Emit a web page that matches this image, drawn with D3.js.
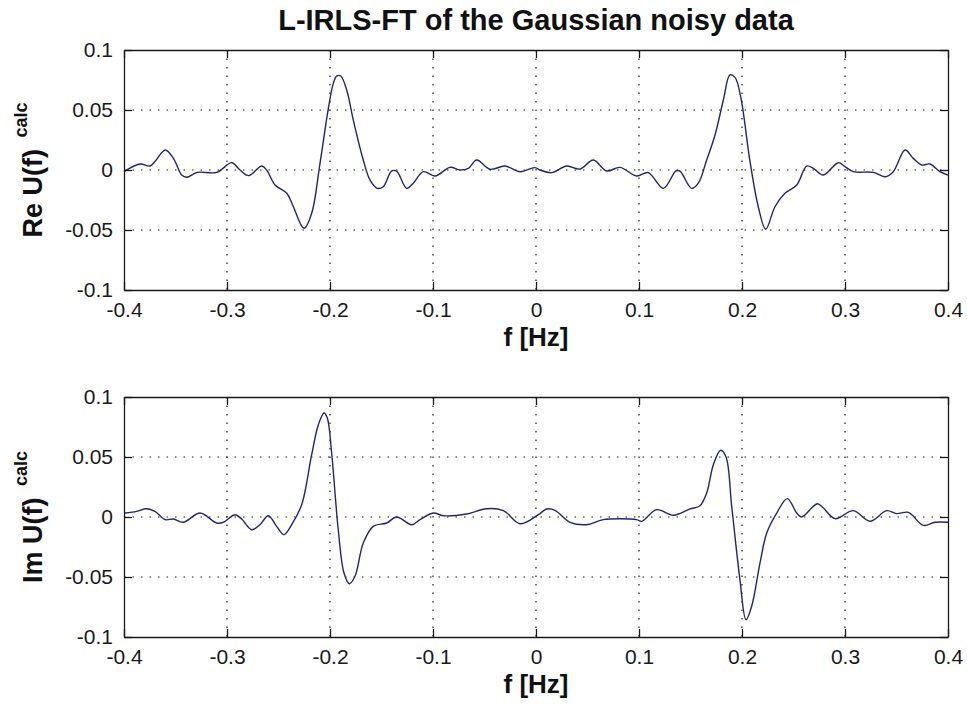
<!DOCTYPE html>
<html>
<head>
  <meta charset="utf-8">
  <script src="https://cdn.jsdelivr.net/npm/d3@7"></script>
  <style>
    body { margin: 0; background: #fff; }
    svg { display: block; font-family: Arial, "Liberation Sans", sans-serif; }
  </style>
</head>
<body>
<div id="chart"></div>
<script>
  var w = 967, h = 707;

  // tick values / labels
  var xTicks = [-0.4, -0.3, -0.2, -0.1, 0, 0.1, 0.2, 0.3, 0.4];
  var xTickLabels = ["-0.4", "-0.3", "-0.2", "-0.1", "0", "0.1", "0.2", "0.3", "0.4"];
  var yTicks = [-0.1, -0.05, 0, 0.05, 0.1];
  var yTickLabels = ["-0.1", "-0.05", "0", "0.05", "0.1"];

  // Re U(f) calc
  var freqRe = [-0.4, -0.3845, -0.3748, -0.370, -0.360, -0.352, -0.344, -0.339, -0.329, -0.310,
    -0.2954, -0.2874, -0.279, -0.2663, -0.2615, -0.2534, -0.242, -0.2356, -0.2252, -0.2178,
    -0.2097, -0.2016, -0.1968, -0.1935, -0.1896, -0.1838, -0.1774, -0.1677, -0.1612, -0.1541,
    -0.1483, -0.1401, -0.1353, -0.1256, -0.1191, -0.1094, -0.098, -0.0835, -0.0738, -0.0657,
    -0.0576, -0.0447, -0.0301, -0.0155, -0.001, 0.0039, 0.0152, 0.0298, 0.0427, 0.0557,
    0.0686, 0.0816, 0.0977, 0.109, 0.1236, 0.1359, 0.1398, 0.1511, 0.1576, 0.1657,
    0.1738, 0.1819, 0.1883, 0.1932, 0.1987, 0.2078, 0.2158, 0.2230, 0.2320, 0.2417,
    0.2531, 0.2628, 0.2692, 0.279, 0.2935, 0.3, 0.3081, 0.3275, 0.3388, 0.3469,
    0.3583, 0.3663, 0.3744, 0.3825, 0.3922, 0.4];
  var valRe = [-0.0014, 0.005, 0.0033, 0.007, 0.0167, 0.0097, -0.0042, -0.0061, -0.002, -0.002,
    0.0061, 0.0, -0.0047, 0.0033, 0.0, -0.0125, -0.0194, -0.0306, -0.0486, -0.0361,
    0.0056, 0.0514, 0.0722, 0.0783, 0.0783, 0.0667, 0.0417, 0.0083, -0.0083, -0.0153,
    -0.0139, -0.0008, -0.001, -0.0153, -0.011, -0.0014, -0.005, 0.0022, 0.0, 0.0014,
    0.0083, 0.0006, 0.0033, -0.0014, 0.002, 0.0, -0.0022, 0.0033, 0.0008, 0.0083,
    -0.0008, 0.0022, -0.005, -0.0022, -0.0153, -0.0008, -0.001, -0.0153, -0.011, 0.0083,
    0.0292, 0.0583, 0.0792, 0.0772, 0.0611, 0.0069, -0.0306, -0.0494, -0.0306, -0.0194,
    -0.0125, 0.0033, 0.0014, -0.0042, 0.0061, 0.0028, -0.0014, -0.002, -0.0056, -0.0014,
    0.0167, 0.0097, 0.0042, 0.005, -0.0014, -0.0042];

  // Im U(f) calc
  var freqIm = [-0.399, -0.3877, -0.378, -0.370, -0.360, -0.352, -0.3424, -0.3262, -0.310, -0.3036,
    -0.2922, -0.2858, -0.276, -0.268, -0.2599, -0.2518, -0.2447, -0.2372, -0.2275, -0.2178,
    -0.2113, -0.2058, -0.2026, -0.1984, -0.192, -0.1864, -0.1812, -0.1757, -0.1677, -0.158,
    -0.145, -0.1353, -0.1207, -0.1126, -0.0997, -0.09, -0.0673, -0.0479, -0.0317, -0.0155,
    0.0023, 0.0104, 0.0184, 0.033, 0.0492, 0.0653, 0.0977, 0.1026, 0.1172, 0.1333,
    0.1495, 0.1592, 0.1657, 0.1722, 0.1793, 0.1845, 0.19, 0.198, 0.2039, 0.2094,
    0.2175, 0.224, 0.2337, 0.244, 0.2531, 0.2579, 0.2731, 0.279, 0.2903, 0.3081,
    0.3243, 0.3405, 0.3502, 0.3615, 0.3761, 0.3874, 0.4];
  var valIm = [0.0033, 0.0047, 0.0069, 0.0047, -0.0022, -0.0017, -0.0044, 0.0033, -0.005, -0.0044,
    0.0019, -0.0017, -0.0106, -0.0064, 0.0011, -0.0078, -0.0147, -0.0064, 0.0103, 0.0519,
    0.0769, 0.0867, 0.0825, 0.0533, -0.0106, -0.0467, -0.0556, -0.0494, -0.0217, -0.0078,
    -0.005, 0.0, -0.0064, -0.0022, 0.0033, 0.0011, 0.0025, 0.0069, 0.0053, -0.0056,
    0.0019, 0.0067, 0.0056, -0.0044, -0.0064, -0.0022, -0.0022, -0.0036, 0.0061, 0.0014,
    0.0067, 0.0094, 0.02, 0.0436, 0.0556, 0.05, 0.0089, -0.0522, -0.0856, -0.0744,
    -0.0383, -0.0133, 0.0033, 0.0153, 0.0033, 0.0, 0.0111, 0.0075, -0.0014, 0.0053,
    -0.0036, 0.0053, 0.0028, 0.0039, -0.007, -0.0044, -0.0044];

  var left = 124, right = 948;
  var lineColor = "#23237c";

  var svg = d3.select("#chart").append("svg")
    .attr("width", w).attr("height", h);

  svg.append("rect").attr("width", w).attr("height", h).attr("fill", "#fff");

  // title
  svg.append("text")
    .attr("x", (left + right) / 2)
    .attr("y", 30)
    .attr("text-anchor", "middle")
    .attr("font-size", 29)
    .attr("font-weight", "bold")
    .attr("fill", "#111")
    .text("L-IRLS-FT of the Gaussian noisy data");

  function drawPanel(top, bottom, freq, vals, yMain) {
    var xScale = d3.scaleLinear().domain([-0.4, 0.4]).range([left, right]);
    var yScale = d3.scaleLinear().domain([-0.1, 0.1]).range([bottom, top]);
    var g = svg.append("g");

    // dotted grid
    g.selectAll(".vgrid").data(xTicks.slice(1, -1)).enter().append("line")
      .attr("x1", function(d) { return xScale(d); })
      .attr("x2", function(d) { return xScale(d); })
      .attr("y1", top).attr("y2", bottom)
      .attr("stroke", "#222").attr("stroke-width", 1.2)
      .attr("stroke-dasharray", "1.5,7");
    g.selectAll(".hgrid").data(yTicks.slice(1, -1)).enter().append("line")
      .attr("y1", function(d) { return yScale(d); })
      .attr("y2", function(d) { return yScale(d); })
      .attr("x1", left).attr("x2", right)
      .attr("stroke", "#222").attr("stroke-width", 1.2)
      .attr("stroke-dasharray", "1.5,7");

    // curve
    var pts = freq.map(function(f, i) { return [f, vals[i]]; });
    g.append("path")
      .datum(pts)
      .attr("fill", "none")
      .attr("stroke", lineColor)
      .attr("stroke-width", 1.4)
      .attr("stroke-linejoin", "round")
      .attr("d", d3.line()
        .x(function(d) { return xScale(d[0]); })
        .y(function(d) { return yScale(d[1]); })
        .curve(d3.curveCatmullRom.alpha(0.5)));

    // axes, ticks pointing inward on all four sides
    var xAxis = d3.axisBottom(xScale).tickValues(xTicks)
      .tickFormat(function(d, i) { return xTickLabels[i]; })
      .tickSizeInner(-8).tickSizeOuter(0).tickPadding(12);
    var yAxis = d3.axisLeft(yScale).tickValues(yTicks)
      .tickFormat(function(d, i) { return yTickLabels[i]; })
      .tickSizeInner(-8).tickSizeOuter(0).tickPadding(11);
    var xAxisTop = d3.axisTop(xScale).tickValues(xTicks).tickFormat("")
      .tickSizeInner(-8).tickSizeOuter(0);
    var yAxisRight = d3.axisRight(yScale).tickValues(yTicks).tickFormat("")
      .tickSizeInner(-8).tickSizeOuter(0);

    var axes = [
      g.append("g").attr("transform", "translate(0," + bottom + ")").call(xAxis),
      g.append("g").attr("transform", "translate(" + left + ",0)").call(yAxis),
      g.append("g").attr("transform", "translate(0," + top + ")").call(xAxisTop),
      g.append("g").attr("transform", "translate(" + right + ",0)").call(yAxisRight)
    ];
    axes.forEach(function(a) {
      a.selectAll("path, line").attr("stroke", "#1a1a1a").attr("stroke-width", 1.3);
      a.selectAll("text").attr("font-size", 21).attr("fill", "#1a1a1a")
        .attr("font-family", "Arial, 'Liberation Sans', sans-serif");
    });

    // x label
    g.append("text")
      .attr("x", (left + right) / 2)
      .attr("y", bottom + 56)
      .attr("text-anchor", "middle")
      .attr("font-size", 26)
      .attr("font-weight", "bold")
      .attr("fill", "#111")
      .text("f [Hz]");

    // y label with superscript
    var yl = g.append("text")
      .attr("transform", "translate(42," + ((top + bottom) / 2) + ") rotate(-90)")
      .attr("text-anchor", "middle")
      .attr("font-weight", "bold")
      .attr("fill", "#111")
      .attr("font-size", 27);
    yl.append("tspan").text(yMain + " ");
    yl.append("tspan").attr("font-size", 18).attr("dx", 4).attr("dy", -15).text("calc");
  }

  drawPanel(50, 290, freqRe, valRe, "Re U(f)");
  drawPanel(397, 637, freqIm, valIm, "Im U(f)");
</script>
</body>
</html>
